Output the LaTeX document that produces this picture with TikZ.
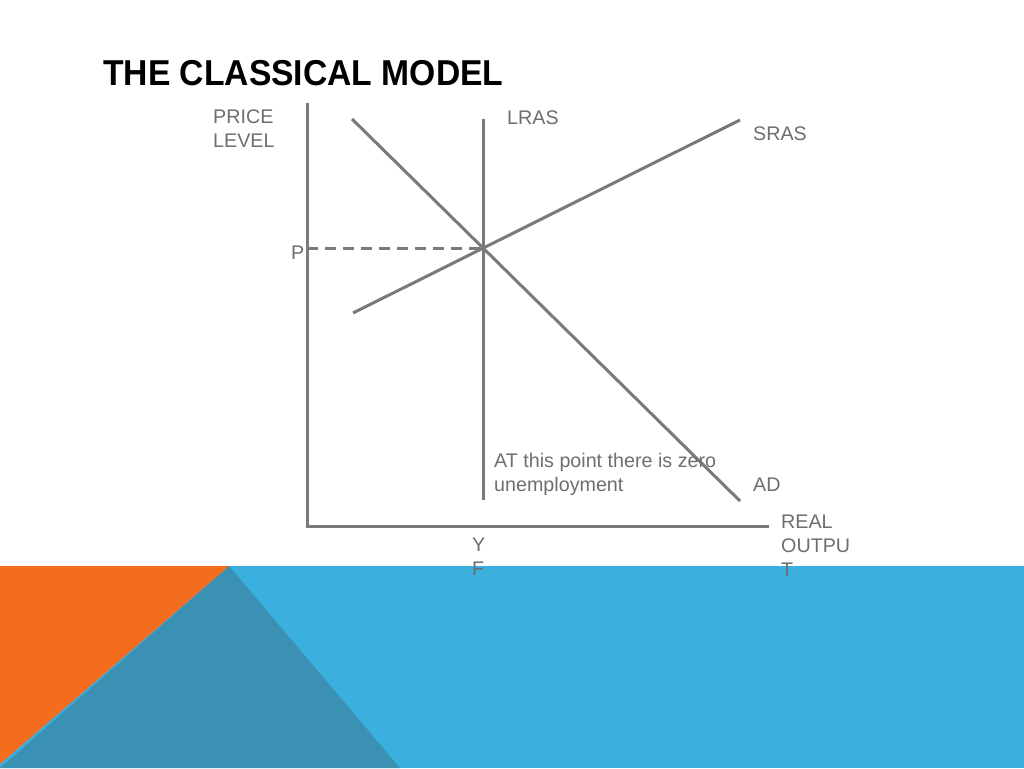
\documentclass[tikz,border=0pt]{standalone}
\usepackage{fontspec}
\setmainfont{Liberation Sans}
\usetikzlibrary{positioning}
\definecolor{curvegray}{HTML}{7A7A7A}
\definecolor{labelgray}{HTML}{6E6E6E}
\definecolor{bandorange}{HTML}{F46D1F}
\definecolor{bandteal}{HTML}{3A91B4}
\definecolor{bandblue}{HTML}{3BB0DE}

\begin{document}
\begin{tikzpicture}[
  x=1pt,y=-1pt,
  curve/.style={draw=curvegray,line width=3pt},
  guide/.style={draw=curvegray,line width=3pt,dash pattern=on 11pt off 7pt},
  lbl/.style={text=labelgray,font=\fontsize{19.7}{24}\selectfont,
              anchor=base west,inner sep=0pt,align=left}
]
\useasboundingbox[fill=white] (0,0) rectangle (1024,768);
% bottom band
\fill[bandblue] (0,566) rectangle (1024,768);
\fill[bandteal] (229,566) -- (400,768) -- (0,768) -- cycle;
\fill[bandorange] (0,566) -- (229,566) -- (0,764) -- cycle;

\node[anchor=base west,inner sep=0pt,font=\bfseries\fontsize{36}{40}\selectfont]
  (title) at (103,85) {\scalebox{0.935}[1]{THE CLASSICAL MODEL}};

\coordinate (ytop) at (307,103);
\coordinate (orig) at (307,526);
\coordinate (xend) at (769,526);
\coordinate (lrastop) at (483,119);
\coordinate (lrasbot) at (483,500);
\coordinate (adtop) at (352,119);
\coordinate (adbot) at (740,501);
\coordinate (srasbot) at (353,313);
\coordinate (srastop) at (740,120);
\coordinate (eq) at (483,248);
\coordinate (plevel) at (307,248);

\draw[curve] (ytop) -- (orig) -- (xend);
\draw[curve] (lrastop) -- (lrasbot);
\draw[curve] (adtop) -- (adbot);
\draw[curve] (srasbot) -- (srastop);
\draw[guide] (plevel) -- (eq);

% multi-line labels sit on the baseline of their last line
\node[lbl] (price) at (213,147) {PRICE\\LEVEL};
\node[lbl] (lras) at (507,124) {LRAS};
\node[lbl] (sras) at (753,140) {SRAS};
\node[lbl] (p) at (291,259) {P};
\node[lbl] (note) at (494,491) {AT this point there is zero\\unemployment};
\node[lbl] (ad) at (753,491) {AD};
\node[lbl] (output) at (781,576) {REAL\\OUTPU\\T};
\node[lbl] (yf) at (472,575) {Y\\F};
\end{tikzpicture}
\end{document}
